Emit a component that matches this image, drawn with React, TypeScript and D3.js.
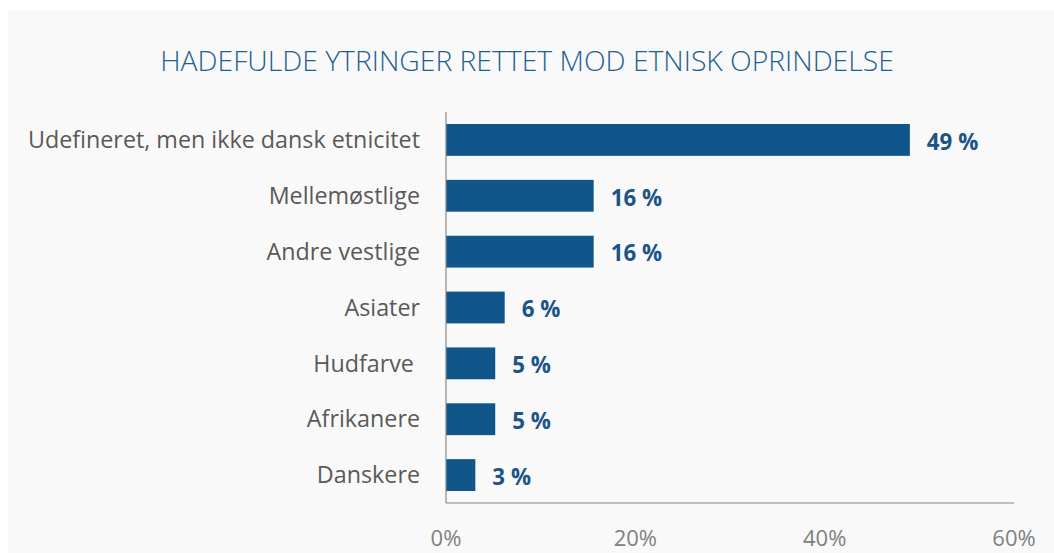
import React from "react";
import * as d3 from "d3";

const title = "HADEFULDE YTRINGER RETTET MOD ETNISK OPRINDELSE";
const categories = [
  "Udefineret, men ikke dansk etnicitet",
  "Mellemøstlige",
  "Andre vestlige",
  "Asiater",
  "Hudfarve ",
  "Afrikanere",
  "Danskere",
];
const values = [49, 15.6, 15.6, 6.2, 5.2, 5.2, 3.1];
const valueLabels = ["49 %", "16 %", "16 %", "6 %", "5 %", "5 %", "3 %"];
const xTicks = [0, 20, 40, 60];

const W = 1054;
const H = 553;
const plot = { left: 446, right: 1014, top: 112, bottom: 503 };

export default function App() {
  const x = d3.scaleLinear().domain([0, 60]).range([plot.left, plot.right]);
  const y = d3
    .scaleBand<string>()
    .domain(categories)
    .range([plot.top, plot.bottom])
    .paddingInner(0.43)
    .paddingOuter(0.215);
  const font = "'Open Sans', sans-serif";
  return (
    <svg
      width={W}
      height={H}
      style={{ position: "absolute", left: 0, top: 0, display: "block" }}
    >
      <rect x={0} y={0} width={W} height={H} fill="#ffffff" />
      <rect x={8} y={10} width={W - 8} height={H - 10} fill="#f9f9f9" />
      <text
        x={527}
        y={71}
        textAnchor="middle"
        fontFamily={font}
        fontWeight={300}
        fontSize={28.3}
        fill="#1f5f94"
      >
        {title}
      </text>
      {categories.map((c, i) => (
        <g key={c}>
          <rect
            x={x(0)}
            y={y(c)!}
            width={x(values[i]) - x(0)}
            height={y.bandwidth()}
            fill="#10568a"
          />
          <text
            x={420}
            y={y(c)! + y.bandwidth() / 2}
            dy="0.35em"
            textAnchor="end"
            fontFamily={font}
            fontSize={23.3}
            fill="#595959"
            style={{ whiteSpace: "pre" }}
          >
            {c}
          </text>
          <text
            x={x(values[i]) + 17}
            y={y(c)! + y.bandwidth() / 2 + 2}
            dy="0.35em"
            fontFamily={font}
            fontWeight={700}
            fontSize={22.3}
            fill="#1a5488"
          >
            {valueLabels[i]}
          </text>
        </g>
      ))}
      <line x1={plot.left} x2={plot.left} y1={plot.top} y2={plot.bottom} stroke="#888" strokeWidth={1.2} />
      <line x1={plot.left} x2={plot.right} y1={plot.bottom} y2={plot.bottom} stroke="#888" strokeWidth={1.2} />
      {xTicks.map((t) => (
        <text
          key={t}
          x={x(t)}
          y={538}
          dy="0.35em"
          textAnchor="middle"
          fontFamily={font}
          fontSize={22}
          fill="#808080"
        >
          {t + "%"}
        </text>
      ))}
    </svg>
  );
}
